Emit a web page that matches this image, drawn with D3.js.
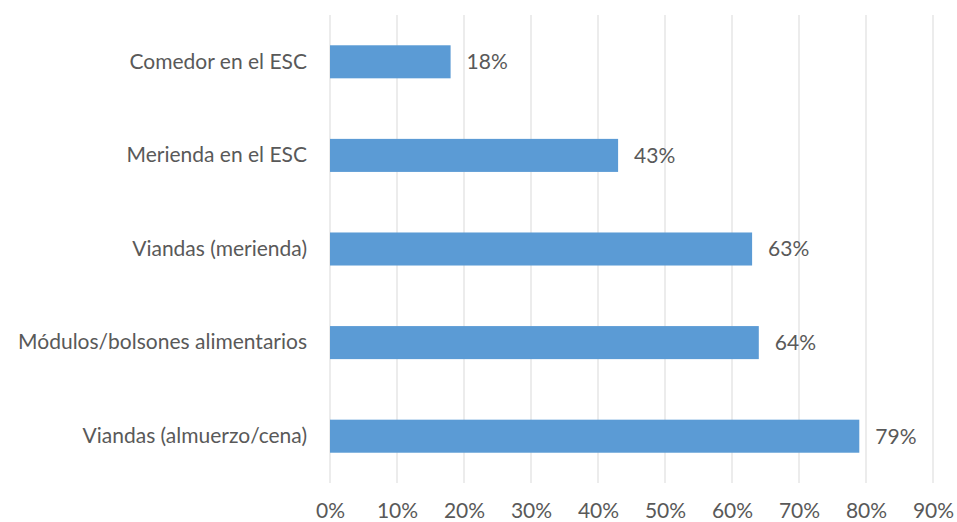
<!DOCTYPE html>
<html>
<head>
<meta charset="utf-8">
<script src="https://cdn.jsdelivr.net/npm/d3@7"></script>
<style>
  body { margin: 0; background: #fff; }
  svg text { font-family: Lato, "Open Sans", "Liberation Sans", sans-serif; fill: #595959; }
</style>
</head>
<body>
<svg id="chart" width="957" height="522"></svg>
<script>
// Food assistance modalities and share of respondents
const categories = [
  "Comedor en el ESC",
  "Merienda en el ESC",
  "Viandas (merienda)",
  "Módulos/bolsones alimentarios",
  "Viandas (almuerzo/cena)"
];
const values = [0.18, 0.43, 0.63, 0.64, 0.79];
const tickValues = [0, 0.1, 0.2, 0.3, 0.4, 0.5, 0.6, 0.7, 0.8, 0.9];

const width = 957, height = 522;
const margin = { top: 15, right: 24, bottom: 39, left: 330 };
const fontSize = "21px";

const svg = d3.select("#chart");
const g = svg.append("g").attr("transform", `translate(${margin.left},${margin.top})`);
const innerW = width - margin.left - margin.right;
const innerH = height - margin.top - margin.bottom;

const x = d3.scaleLinear().domain([0, 0.9]).range([0, innerW]);
const y = d3.scaleBand().domain(categories).range([0, innerH])
  .paddingInner(0.647).paddingOuter(0.3235);

// vertical gridlines
g.selectAll(".grid").data(tickValues).join("line")
  .attr("x1", d => x(d)).attr("x2", d => x(d))
  .attr("y1", 0).attr("y2", innerH)
  .attr("stroke", "#d9d9d9").attr("stroke-width", 1);

// bottom axis labels
const xAxis = d3.axisBottom(x).tickValues(tickValues).tickFormat(d3.format(".0%")).tickSize(0).tickPadding(20);
const ax = g.append("g").attr("transform", `translate(0,${innerH})`).call(xAxis);
ax.select(".domain").remove();
ax.selectAll("text").style("font-size", fontSize).attr("fill", "#595959");

// category labels
const yAxis = d3.axisLeft(y).tickSize(0).tickPadding(23);
const ay = g.append("g").call(yAxis);
ay.select(".domain").remove();
ay.selectAll("text").style("font-size", fontSize).attr("fill", "#595959");

// bars
g.selectAll(".bar").data(values).join("rect")
  .attr("x", x(0))
  .attr("y", (d, i) => y(categories[i]))
  .attr("width", d => x(d) - x(0))
  .attr("height", y.bandwidth())
  .attr("fill", "#5b9bd5");

// value labels
g.selectAll(".val").data(values).join("text")
  .attr("x", d => x(d) + 16)
  .attr("y", (d, i) => y(categories[i]) + y.bandwidth() / 2)
  .attr("dy", "0.35em")
  .style("font-size", fontSize)
  .text(d => d3.format(".0%")(d));
</script>
</body>
</html>
